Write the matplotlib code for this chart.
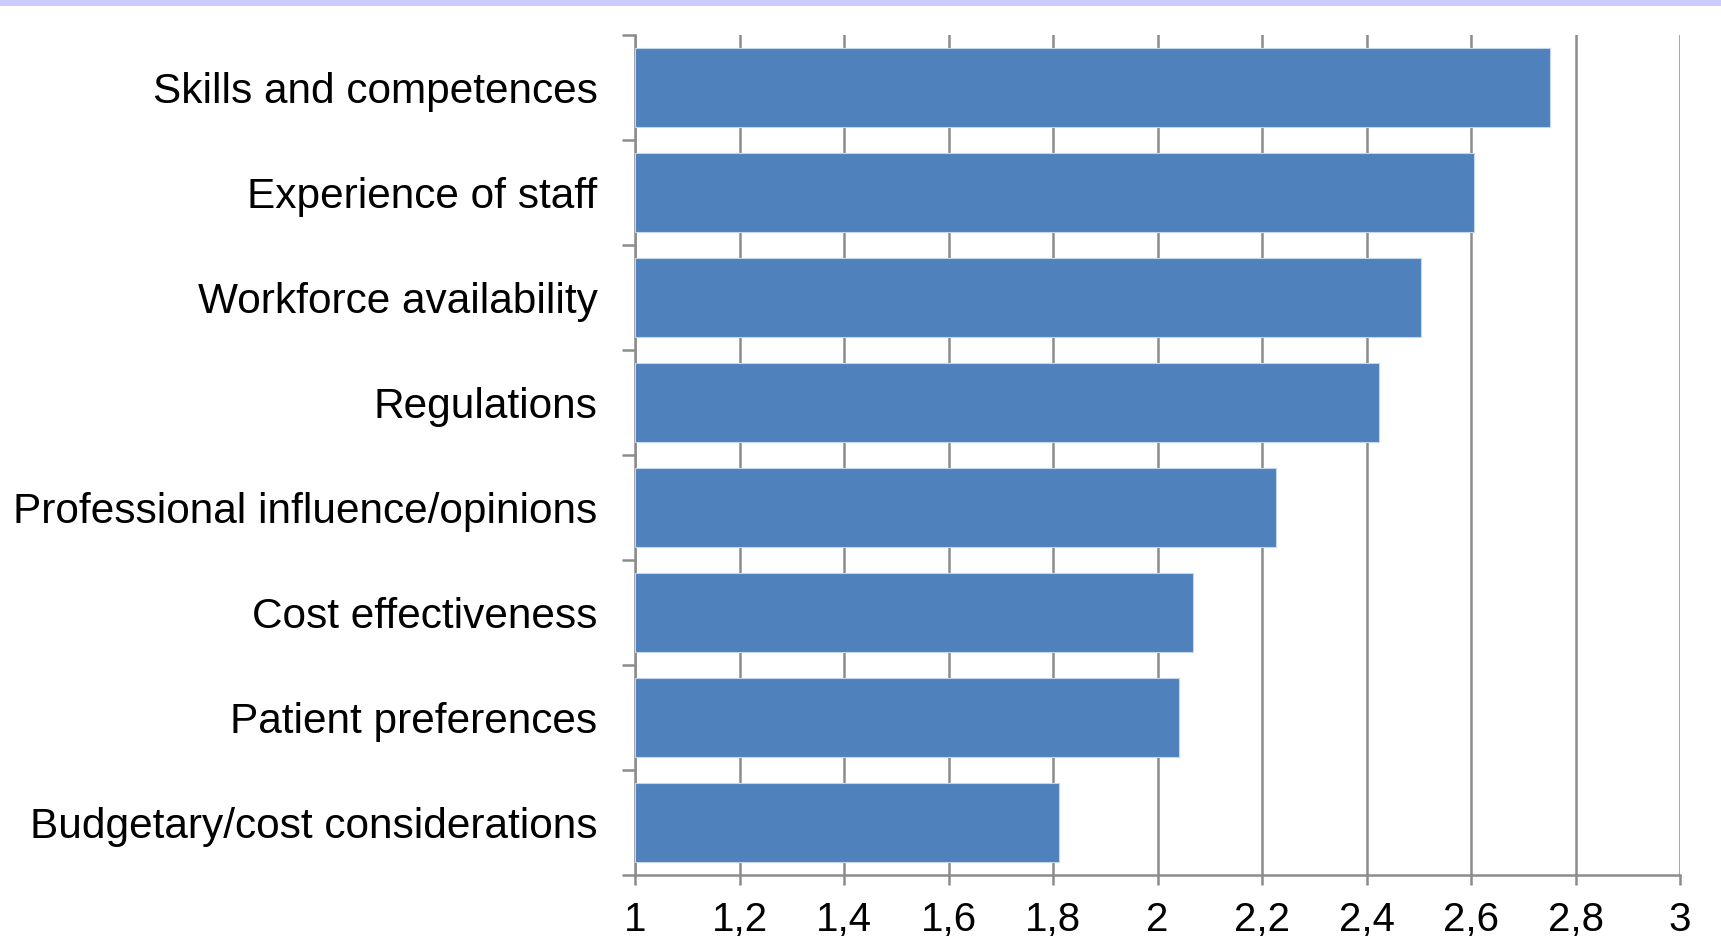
import matplotlib
matplotlib.use("Agg")
import matplotlib.pyplot as plt
from matplotlib.patches import Rectangle
from matplotlib.ticker import FixedLocator, FuncFormatter

categories = ["Skills and competences", "Experience of staff", "Workforce availability",
              "Regulations", "Professional influence/opinions", "Cost effectiveness",
              "Patient preferences", "Budgetary/cost considerations"]
values = [2.751, 2.606, 2.504, 2.423, 2.226, 2.068, 2.041, 1.811]
xticks = [1, 1.2, 1.4, 1.6, 1.8, 2, 2.2, 2.4, 2.6, 2.8, 3]

plt.rcParams['font.family'] = ['Liberation Sans', 'DejaVu Sans']

fig = plt.figure(figsize=(17.21, 9.51), dpi=100)
ax = fig.add_axes([635/1721, 1-875/951, (1680-635)/1721, (875-35)/951])

fig.patches.append(Rectangle((0, 1-6/951), 1, 6/951, transform=fig.transFigure,
                             facecolor='#CCCCFF', edgecolor='none'))

gray = '#8C8C8C'
pos = list(range(len(categories)))
ax.barh(pos, [v - 1 for v in values], left=1, height=0.75, color='#4F81BD',
        edgecolor='#C5D5EA', linewidth=0.8, zorder=3)

ax.set_xlim(1, 3)
ax.set_ylim(len(categories) - 0.5, -0.5)
ax.set_xticks(xticks)
ax.xaxis.set_major_formatter(FuncFormatter(lambda v, p: ('%g' % round(v, 1)).replace('.', ',')))
ax.grid(axis='x', color=gray, linewidth=1.8, zorder=1)
ax.set_axisbelow(True)

ax.set_yticks(pos)
ax.set_yticklabels(categories)
ax.yaxis.set_minor_locator(FixedLocator([i - 0.5 for i in range(len(categories) + 1)]))
ax.tick_params(axis='y', which='major', length=0, pad=27, labelsize=30.5)
ax.tick_params(axis='y', which='minor', length=9.5, width=1.8, color=gray, direction='out')
ax.tick_params(axis='x', which='major', length=7.5, width=1.8, color=gray, direction='out',
               labelsize=29, pad=11)

for s in ['top', 'right']:
    ax.spines[s].set_visible(False)
for s in ['left', 'bottom']:
    ax.spines[s].set_color(gray)
    ax.spines[s].set_linewidth(1.8)

fig.savefig('out.png', dpi=100)
